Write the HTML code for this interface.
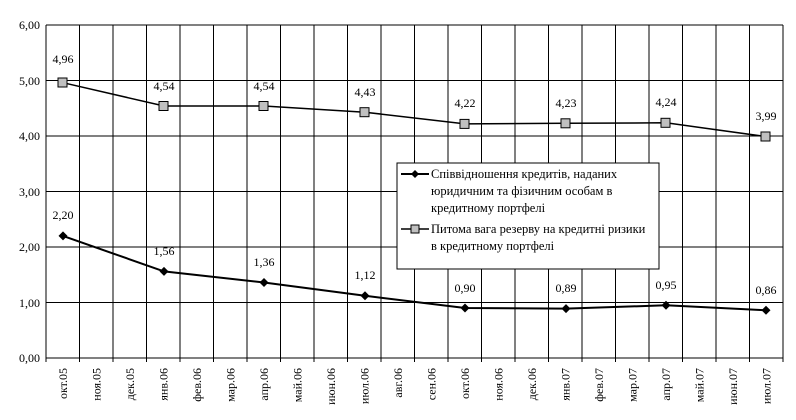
<!DOCTYPE html>
<html><head><meta charset="utf-8"><style>body{margin:0;background:#fff}svg{display:block}text{font-family:"Liberation Serif",serif;fill:#000}</style></head><body>
<svg width="796" height="420" viewBox="0 0 796 420" xmlns="http://www.w3.org/2000/svg">
<g stroke="#000" stroke-width="1">
<line x1="46" y1="25" x2="783" y2="25"/>
<line x1="46" y1="80.5" x2="783" y2="80.5"/>
<line x1="46" y1="136" x2="783" y2="136"/>
<line x1="46" y1="191.5" x2="783" y2="191.5"/>
<line x1="46" y1="247" x2="783" y2="247"/>
<line x1="46" y1="302.5" x2="783" y2="302.5"/>
<line x1="46" y1="358" x2="783" y2="358"/>
<line x1="46" y1="25" x2="46" y2="358"/>
<line x1="783" y1="25" x2="783" y2="358"/>
</g>
<g stroke="#000" stroke-width="1" id="vg"></g>
<g font-size="12" text-anchor="end">
<text x="40" y="29">6,00</text><text x="40" y="85">5,00</text><text x="40" y="140">4,00</text><text x="40" y="196">3,00</text><text x="40" y="251">2,00</text><text x="40" y="307">1,00</text><text x="40" y="362">0,00</text>
</g>
<g id="xl" font-size="12"></g>
<polyline fill="none" stroke="#000" stroke-width="1.5" points="63,82.7 164,106 264,106 365,112.2 465,123.9 566,123.3 666,122.8 766,136.6"/>
<polyline fill="none" stroke="#000" stroke-width="2" points="63,235.9 164,271.4 264,282.5 365,295.8 465,308 566,308.6 666,305.3 766,310.3"/>
<g fill="#c0c0c0" stroke="#000" stroke-width="1">
<rect x="58" y="78" width="9" height="9"/><rect x="159" y="101.5" width="9" height="9"/><rect x="259" y="101.5" width="9" height="9"/><rect x="360" y="107.7" width="9" height="9"/><rect x="460" y="119.4" width="9" height="9"/><rect x="561" y="118.8" width="9" height="9"/><rect x="661" y="118.3" width="9" height="9"/><rect x="761" y="132" width="9" height="9"/>
</g>
<g fill="#000">
<path d="M63 231.4l4.5 4.5-4.5 4.5-4.5-4.5z"/><path d="M164 266.9l4.5 4.5-4.5 4.5-4.5-4.5z"/><path d="M264 278l4.5 4.5-4.5 4.5-4.5-4.5z"/><path d="M365 291.3l4.5 4.5-4.5 4.5-4.5-4.5z"/><path d="M465 303.5l4.5 4.5-4.5 4.5-4.5-4.5z"/><path d="M566 304.1l4.5 4.5-4.5 4.5-4.5-4.5z"/><path d="M666 300.8l4.5 4.5-4.5 4.5-4.5-4.5z"/><path d="M766 305.8l4.5 4.5-4.5 4.5-4.5-4.5z"/>
</g>
<g font-size="12" text-anchor="middle">
<text x="63" y="63">4,96</text><text x="164" y="90">4,54</text><text x="264" y="90">4,54</text><text x="365" y="96">4,43</text><text x="465" y="107">4,22</text><text x="566" y="107">4,23</text><text x="666" y="106">4,24</text><text x="766" y="120">3,99</text>
<text x="63" y="219">2,20</text><text x="164" y="255">1,56</text><text x="264" y="266">1,36</text><text x="365" y="279">1,12</text><text x="465" y="292">0,90</text><text x="566" y="292">0,89</text><text x="666" y="289">0,95</text><text x="766" y="294">0,86</text>
</g>
<rect x="397" y="163" width="262" height="106" fill="#fff" stroke="#000"/>
<line x1="401" y1="174" x2="429" y2="174" stroke="#000" stroke-width="2"/>
<path d="M415 170l4 4-4 4-4-4z" fill="#000"/>
<line x1="401" y1="229" x2="429" y2="229" stroke="#000" stroke-width="1.5"/>
<rect x="411" y="225" width="8" height="8" fill="#c0c0c0" stroke="#000"/>
<g font-size="12.5">
<text x="431" y="178">Співвідношення кредитів, наданих</text>
<text x="431" y="195">юридичним та фізичним особам в</text>
<text x="431" y="212">кредитному портфелі</text>
<text x="431" y="233">Питома вага резерву на кредитні ризики</text>
<text x="431" y="250">в кредитному портфелі</text>
</g>
<script>
var vg=document.getElementById('vg'),xl=document.getElementById('xl');
var m=['окт.05','ноя.05','дек.05','янв.06','фев.06','мар.06','апр.06','май.06','июн.06','июл.06','авг.06','сен.06','окт.06','ноя.06','дек.06','янв.07','фев.07','мар.07','апр.07','май.07','июн.07','июл.07'];
var ns='http://www.w3.org/2000/svg',w=737/22;
for(var i=0;i<=22;i++){var x=46+i*w;var l=document.createElementNS(ns,'line');l.setAttribute('x1',x);l.setAttribute('x2',x);l.setAttribute('y1',25);l.setAttribute('y2',362);vg.appendChild(l);}
for(var i=0;i<22;i++){var cx=46+(i+0.5)*w+4;var t=document.createElementNS(ns,'text');t.setAttribute('transform','translate('+cx+',368) rotate(-90)');t.setAttribute('text-anchor','end');t.textContent=m[i];xl.appendChild(t);}
</script>
</svg>
</body></html>
